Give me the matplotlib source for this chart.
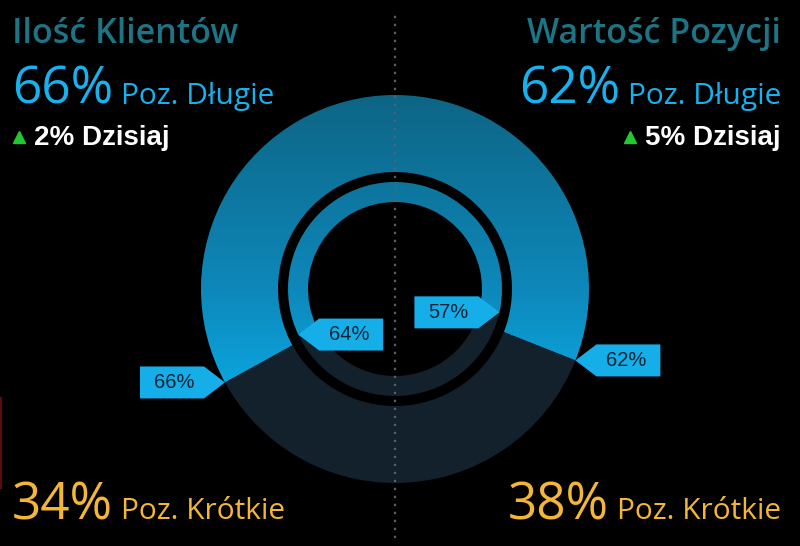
import numpy as np
import matplotlib.pyplot as plt
from matplotlib.patches import Wedge, Polygon
from matplotlib.colors import LinearSegmentedColormap

# values
titles = ["Ilość Klientów", "Wartość Pozycji"]
long_pct = [66, 62]       # outer ring
inner_pct = [64, 57]      # inner ring
short_pct = [34, 38]
change_pct = [2, 5]

W, H = 800, 546
fig = plt.figure(figsize=(8, 5.46), dpi=100, facecolor="black")
ax = fig.add_axes([0, 0, 1, 1])
ax.set_xlim(0, W)
ax.set_ylim(0, H)
ax.set_facecolor("black")
ax.axis("off")

cx, cy = 395, H - 289
r_out, r_mid = 194, 117
r_in_out, r_in_in = 107, 87

dark = "#13212d"
label_bg = "#16aee8"
grad = LinearSegmentedColormap.from_list(
    "g", [(0, "#0d6585"), (0.5, "#0e88ba"), (0.78, "#0aa8e2"), (1, "#0aa8e2")])

def grad_fill(patch):
    ax.add_patch(patch)
    img = np.linspace(0, 1, 256).reshape(-1, 1)
    im = ax.imshow(img, cmap=grad, extent=[cx - r_out, cx + r_out, cy - r_out, cy + r_out],
                   aspect="auto", zorder=patch.get_zorder())
    im.set_clip_path(patch)

def callout(x_tip, y_tip, text, side):
    # arrow-shaped label box, side = pointing direction
    w, h, n = 64, 32, 21
    if side == "right":
        pts = [(x_tip, y_tip), (x_tip - n, y_tip + h / 2), (x_tip - n - w, y_tip + h / 2),
               (x_tip - n - w, y_tip - h / 2), (x_tip - n, y_tip - h / 2)]
        tx = x_tip - n - w / 2 + 2
    else:
        pts = [(x_tip, y_tip), (x_tip + n, y_tip + h / 2), (x_tip + n + w, y_tip + h / 2),
               (x_tip + n + w, y_tip - h / 2), (x_tip + n, y_tip - h / 2)]
        tx = x_tip + n + w / 2 - 2
    ax.add_patch(Polygon(pts, closed=True, facecolor=label_bg, edgecolor="none", zorder=6))
    ax.text(tx, y_tip, text, ha="center", va="center", fontsize=14.5,
            color="#0c2536", family="Liberation Sans", zorder=7)

for side, (lp, ip) in enumerate(zip(long_pct, inner_pct)):
    if side == 0:
        split = 90 + lp / 100 * 180
        grad_fill(Wedge((cx, cy), r_out, 90, split, width=r_out - r_mid, facecolor="none", edgecolor="none", zorder=2))
        ax.add_patch(Wedge((cx, cy), r_out, split, 270, width=r_out - r_mid, facecolor=dark, zorder=2))
        isplit = 90 + ip / 100 * 180
        grad_fill(Wedge((cx, cy), r_in_out, 90, isplit, width=r_in_out - r_in_in, facecolor="none", edgecolor="none", zorder=3))
        ax.add_patch(Wedge((cx, cy), r_in_out, isplit, 270, width=r_in_out - r_in_in, facecolor=dark, zorder=3))
        a = np.deg2rad(split)
        callout(cx + r_out * np.cos(a), cy + r_out * np.sin(a), f"{lp}%", "right")
        a = np.deg2rad(isplit)
        callout(cx + r_in_out * np.cos(a), cy + r_in_out * np.sin(a), f"{ip}%", "left")
    else:
        split = 90 - lp / 100 * 180
        grad_fill(Wedge((cx, cy), r_out, split, 90, width=r_out - r_mid, facecolor="none", edgecolor="none", zorder=2))
        ax.add_patch(Wedge((cx, cy), r_out, -90, split, width=r_out - r_mid, facecolor=dark, zorder=2))
        isplit = 90 - ip / 100 * 180
        grad_fill(Wedge((cx, cy), r_in_out, isplit, 90, width=r_in_out - r_in_in, facecolor="none", edgecolor="none", zorder=3))
        ax.add_patch(Wedge((cx, cy), r_in_out, -90, isplit, width=r_in_out - r_in_in, facecolor=dark, zorder=3))
        a = np.deg2rad(split)
        callout(cx + r_out * np.cos(a), cy + r_out * np.sin(a), f"{lp}%", "left")
        a = np.deg2rad(isplit)
        callout(cx + r_in_out * np.cos(a), cy + r_in_out * np.sin(a), f"{ip}%", "right")

# dotted divider
ax.plot([cx, cx], [8, H - 14], color="#5a6068", lw=1.6, ls=(0, (1, 2.6)), zorder=5)
# thin red mark at the left edge
ax.plot([1, 1], [H - 398, H - 488], color="#5a0c0c", lw=1.5, zorder=5)

font = "Open Sans"
teal = "#1d7485"
blue = "#17b2ee"
gold = "#f4b637"

r = fig.canvas.get_renderer()
for side in range(2):
    if side == 0:
        x, ha = 12, "left"
    else:
        x, ha = 781, "right"
    ax.text(x, H - 34, titles[side], ha=ha, va="center", fontsize=24.5, color=teal,
            family=font, fontweight="semibold")
    big = ax.text(0, 0, f"{long_pct[side]}%", fontsize=37, color=blue, family=font)
    small = ax.text(0, 0, "Poz. Długie", fontsize=21.5, color=blue, family=font)
    big2 = ax.text(0, 0, f"{short_pct[side]}%", fontsize=37, color=gold, family=font)
    small2 = ax.text(0, 0, "Poz. Krótkie", fontsize=21.5, color=gold, family=font)
    fig.canvas.draw()
    for b, s, ybase in [(big, small, H - 104), (big2, small2, H - 519)]:
        wb = b.get_window_extent(r).width
        ws = s.get_window_extent(r).width
        gap = 8
        if side == 0:
            x0 = x
        else:
            x0 = x - wb - gap - ws
        b.set_position((x0, ybase))
        b.set_va("baseline")
        s.set_position((x0 + wb + gap, ybase))
        s.set_va("baseline")
    # today change
    t = ax.text(0, H - 138, f"{change_pct[side]}% Dzisiaj", fontsize=20, fontweight="bold",
                color="white", family="Liberation Sans", va="center")
    fig.canvas.draw()
    wt = t.get_window_extent(r).width
    tx = 34 if side == 0 else 781 - wt
    t.set_position((tx, H - 138))
    ax.plot(tx - 15, H - 137, marker="^", color="#22c832", markersize=8, ls="none")

fig.savefig("out.png", dpi=100, facecolor="black")
